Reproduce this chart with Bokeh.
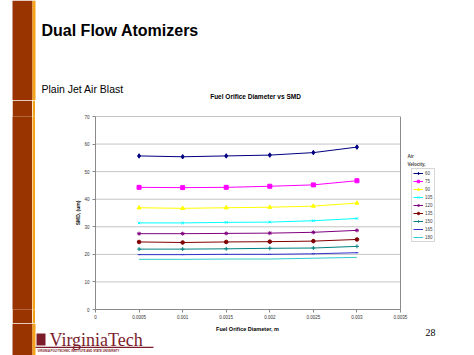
from bokeh.plotting import figure
from bokeh.layouts import row, column
from bokeh.models import (FixedTicker, NumeralTickFormatter, Legend, LegendItem, Label,
                          Range1d)
from bokeh.embed import file_html
from bokeh.resources import INLINE

# ---- data ----
diam = [0.0005, 0.001, 0.0015, 0.002, 0.0025, 0.003]
velocities = ["60", "75", "90", "105", "120", "135", "150", "165", "180"]
smd_60 = [55.7, 55.4, 55.7, 56.0, 56.9, 58.9]
smd_75 = [44.3, 44.2, 44.3, 44.7, 45.2, 46.7]
smd_90 = [36.9, 36.7, 36.9, 37.1, 37.5, 38.6]
smd_105 = [31.4, 31.4, 31.6, 31.7, 32.2, 33.0]
smd_120 = [27.5, 27.5, 27.6, 27.7, 28.0, 28.7]
smd_135 = [24.5, 24.3, 24.5, 24.6, 24.8, 25.4]
smd_150 = [21.9, 21.9, 22.0, 22.2, 22.3, 22.9]
smd_165 = [19.9, 19.9, 20.0, 20.0, 20.2, 20.6]
smd_180 = [18.2, 18.2, 18.3, 18.3, 18.6, 18.9]
x_ticks = [0, 0.0005, 0.001, 0.0015, 0.002, 0.0025, 0.003, 0.0035]
y_ticks = [0, 10, 20, 30, 40, 50, 60, 70]

series = [smd_60, smd_75, smd_90, smd_105, smd_120, smd_135, smd_150, smd_165, smd_180]
colors = ["#000080", "#FF00FF", "#FFFF00", "#00FFFF", "#800080", "#800000",
          "#008080", "#3333CC", "#33CCCC"]
markers = ["diamond", "square", "triangle", "x", "asterisk", "circle", "cross", "dash", None]
msizes = [4.5, 4, 4, 3.5, 4, 3.6, 4, 3, 0]

FONT = "Liberation Sans"
GRAY = "#8a8a8a"
MAROON = "#7B1C2B"
BROWN = "#993300"
ORANGE = "#F7A21B"

# page geometry (pixels)
W, H = 474, 355
BAR = [(12, "white"), (20, BROWN), (3, ORANGE)]   # left decorative strip
BAR_W = sum(w for w, _ in BAR)
TOP_H = 100
FOOT_H = 32
CHART_W = W - BAR_W
CHART_H = H - TOP_H - FOOT_H
PL, PT, PB = 60, 16, 14          # chart borders inside chart figure
PLOT_W = 305                      # width of the plot area (0 .. 0.0035)
FRAME_W = CHART_W - PL            # frame extends under the legend


def blank(width, height, xr, yr, color="white"):
    f = figure(width=width, height=height, x_range=xr, y_range=yr,
               output_backend="svg", toolbar_location=None, min_border=0,
               x_axis_location=None, y_axis_location=None)
    f.grid.visible = False
    f.outline_line_color = None
    f.background_fill_color = color
    f.border_fill_color = color
    return f


def text(f, s, x, y, size, style="normal", font=FONT, color="#000000",
         align="left"):
    f.add_layout(Label(x=x, y=y, text=s, text_font=font, text_font_size=size,
                       text_font_style=style, text_color=color, text_align=align,
                       text_baseline="middle"))


def strip(f, y0, y1):
    x = 0
    for w, c in BAR:
        if c != "white":
            f.quad(left=[x], right=[x + w], top=[y0], bottom=[y1], fill_color=c,
                   line_color=None)
        x += w


# ---- header (full width) ----
top = blank(W, TOP_H, Range1d(0, W), Range1d(TOP_H, 0))
strip(top, 0, TOP_H)
text(top, "Dual Flow Atomizers", 41, 30, "16px", style="bold")
text(top, "Plain Jet Air Blast", 41, 88, "10.5px")
text(top, "Fuel Orifice Diameter vs SMD", 255, 96, "6.5px", style="bold",
     align="center")

# ---- chart ----
x_end = x_ticks[-1] * FRAME_W / PLOT_W
p = figure(width=CHART_W, height=CHART_H, x_range=Range1d(0, x_end),
           y_range=Range1d(y_ticks[0], y_ticks[-1]),
           output_backend="svg", toolbar_location=None,
           min_border_left=PL, min_border_right=0, min_border_top=PT,
           min_border_bottom=PB)
p.background_fill_color = "white"
p.border_fill_color = "white"
p.outline_line_color = None
p.grid.visible = False

for ax in (p.xaxis[0], p.yaxis[0]):
    ax.axis_line_color = GRAY
    ax.major_tick_line_color = GRAY
    ax.major_tick_out = 3
    ax.major_tick_in = 0
    ax.minor_tick_line_color = None
    ax.major_label_text_font = FONT
    ax.major_label_text_font_size = "4.5px"
    ax.major_label_text_color = "#333333"
    ax.axis_label_text_font = FONT
    ax.axis_label_text_font_style = "bold"
    ax.axis_label_text_color = "#111111"

p.xaxis.ticker = FixedTicker(ticks=x_ticks)
p.xaxis.bounds = (x_ticks[0], x_ticks[-1])
p.xaxis.formatter = NumeralTickFormatter(format="0.[0000]")
p.xaxis.major_label_standoff = 2

p.yaxis.ticker = FixedTicker(ticks=y_ticks)
p.yaxis.bounds = (y_ticks[0], y_ticks[-1])
p.yaxis.major_label_standoff = 3
p.yaxis.axis_label = "SMD, (um)"
p.yaxis.axis_label_text_font_size = "5px"
p.yaxis.axis_label_standoff = 0

# horizontal gridlines and plot-area border, limited to the axis extent
p.segment(x0=x_ticks[0], x1=x_ticks[-1], y0=y_ticks[1:-1], y1=y_ticks[1:-1],
          line_color="#c4c4c4", line_width=1)
p.quad(left=[x_ticks[0]], right=[x_ticks[-1]], bottom=[y_ticks[0]], top=[y_ticks[-1]],
       fill_color=None, line_color=GRAY, line_width=1)

items = []
for vel, ys, c, m, s in zip(velocities, series, colors, markers, msizes):
    rs = [p.line(diam, ys, line_color=c, line_width=1)]
    if m is not None:
        rs.append(p.scatter(diam, ys, marker=m, size=s, line_color=c,
                            fill_color=c, line_width=1))
    items.append(LegendItem(label=vel, renderers=rs))

legend = Legend(items=items, location=(316, 67))
legend.label_text_font = FONT
legend.label_text_font_size = "4.5px"
legend.label_height = 6
legend.glyph_height = 6
legend.glyph_width = 10
legend.spacing = 2
legend.padding = 1
legend.margin = 0
legend.label_standoff = 2
legend.label_width = 8
legend.border_line_color = "#b0b0b0"
legend.border_line_width = 1
legend.background_fill_alpha = 1
p.add_layout(legend, "center")

# legend heading (screen units, relative to the frame's bottom-left)
FRAME_LEFT = BAR_W + PL
FRAME_BOTTOM = TOP_H + CHART_H - PB
for s, yy in (("Air", 156), ("Velocity,", 164)):
    p.add_layout(Label(x=407 - FRAME_LEFT, y=FRAME_BOTTOM - yy, x_units="screen",
                       y_units="screen", text=s, text_font=FONT, text_font_size="4.5px",
                       text_font_style="bold", text_baseline="middle"))

# left strip beside the chart
side = [blank(w, CHART_H, Range1d(0, 1), Range1d(0, 1), color=c) for w, c in BAR]
middle = row(*side, p)

# ---- footer (full width) ----
foot = blank(W, FOOT_H, Range1d(0, W), Range1d(H, H - FOOT_H))
strip(foot, H - FOOT_H, H)
text(foot, "Fuel Orifice Diameter, m", 247, 328, "5.5px", style="bold", align="center")
text(foot, "28", 425, 332, "10px", font="Liberation Serif")
foot.quad(left=[36], right=[45], top=[333], bottom=[345], fill_color=MAROON,
          line_color=None)
foot.quad(left=[35], right=[153], top=[346.2], bottom=[347.5], fill_color=MAROON,
          line_color=None)
text(foot, "VirginiaTech", 49, 339, "18px", font="Liberation Serif", color=MAROON)
text(foot, "VIRGINIA POLYTECHNIC INSTITUTE AND STATE UNIVERSITY", 37, 350.5, "2.8px",
     style="bold", color=MAROON)

page = column(top, middle, foot)
open("out.html", "w").write(file_html(page, INLINE))
